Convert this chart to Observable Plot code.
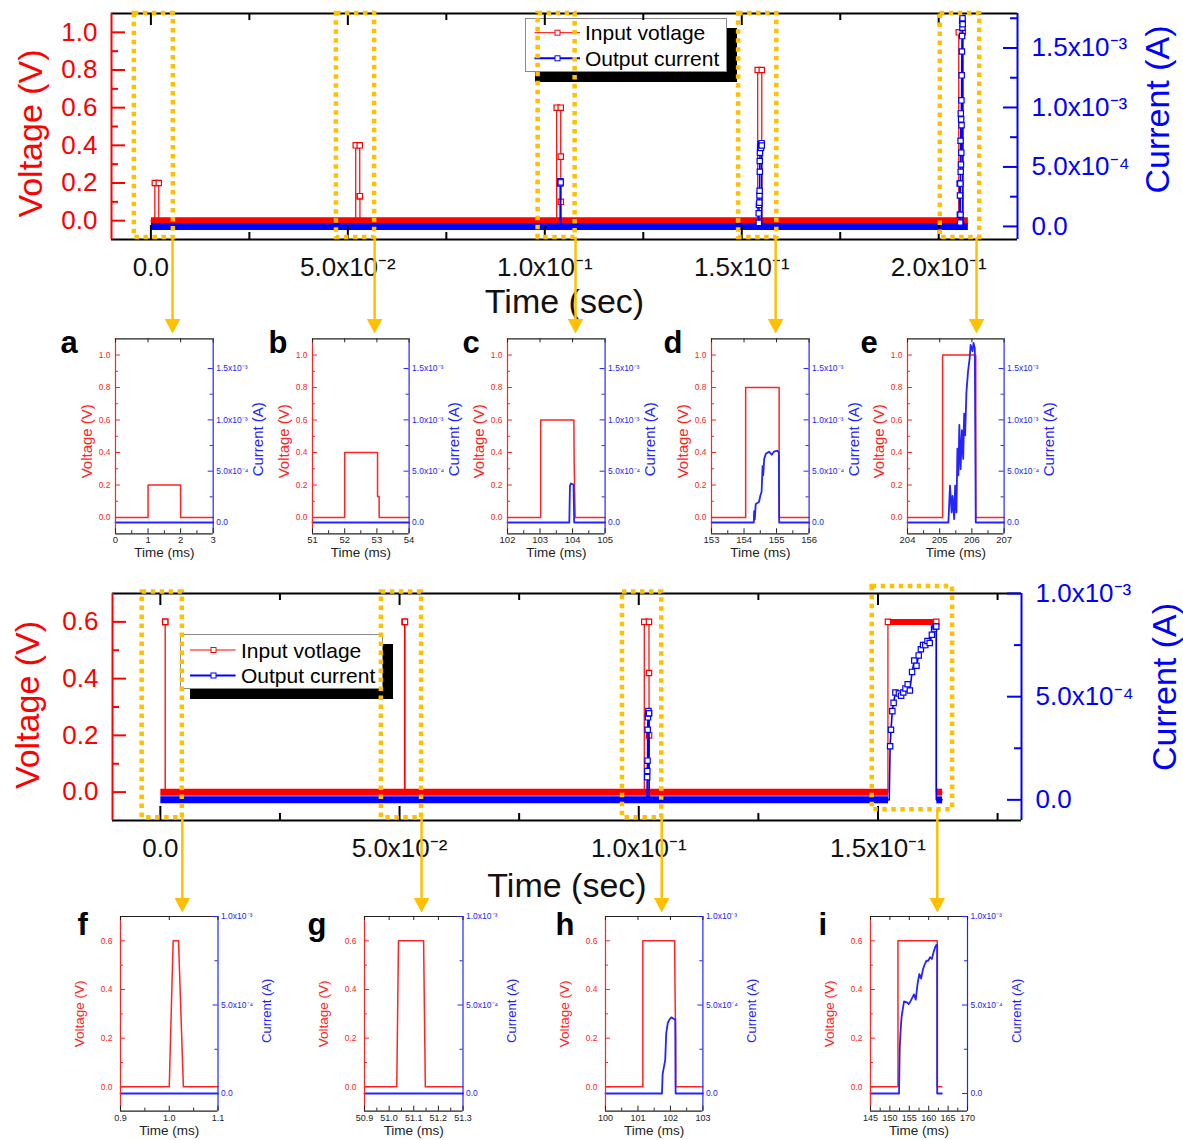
<!DOCTYPE html>
<html>
<head>
<meta charset="utf-8">
<script src="https://cdn.jsdelivr.net/npm/d3@7"></script>
<script src="https://cdn.jsdelivr.net/npm/@observablehq/plot@0.6"></script>
<style>
  html, body { margin: 0; padding: 0; background: #fff; }
  #fig { position: relative; width: 1183px; height: 1140px; overflow: hidden; background: #fff; font-family: "Liberation Sans", Arial, sans-serif; }
  .legend { position: absolute; background: #fff; border: 1px solid #8a8a8a; box-shadow: 10px 10px 0 #000; box-sizing: border-box; }
  .legend text { font-family: "Liberation Sans", Arial, sans-serif; font-size: 21px; fill: #000; }
</style>
</head>
<body>
<div id="fig">
  <div class="legend" style="left:525px;top:18px;width:202px;height:54px;">
    <svg width="200" height="52" style="display:block">
      <line x1="8.5" x2="54" y1="13.7" y2="13.7" stroke="#ff0000" stroke-width="1"/>
      <rect x="29" y="11.2" width="5" height="5" fill="#fff" stroke="#ff0000" stroke-width="1"/>
      <text x="59" y="21.2">Input votlage</text>
      <line x1="8.5" x2="54" y1="39.3" y2="39.3" stroke="#0000ff" stroke-width="2"/>
      <rect x="29" y="36.8" width="5" height="5" fill="#fff" stroke="#0000ff" stroke-width="1"/>
      <text x="59" y="46.8">Output current</text>
    </svg>
  </div>
  <div class="legend" style="left:180px;top:634px;width:203px;height:55px;">
    <svg width="201" height="53" style="display:block">
      <line x1="9" x2="54.6" y1="15" y2="15" stroke="#ff0000" stroke-width="1"/>
      <rect x="30" y="12.5" width="5" height="5" fill="#fff" stroke="#ff0000" stroke-width="1"/>
      <text x="60" y="22.5">Input votlage</text>
      <line x1="9" x2="54.6" y1="40.5" y2="40.5" stroke="#0000ff" stroke-width="2"/>
      <rect x="30" y="38" width="5" height="5" fill="#fff" stroke="#0000ff" stroke-width="1"/>
      <text x="60" y="48">Output current</text>
    </svg>
  </div>
</div>
<script>
// ====================== DATA ======================
// Panel traces: time in ms, voltage in V, current in A
// (a) 0.2 V pulse
const aVoltT = [0, 1.0, 1.0, 2.0, 2.0, 3.0];
const aVolt  = [0, 0, 0.2, 0.2, 0, 0];
const aCurrT = [0, 3.0];
const aCurr  = [0, 0];
// (b) 0.4 V pulse
const bVoltT = [51, 52.0, 52.0, 53.02, 53.02, 53.07, 53.07, 54];
const bVolt  = [0, 0, 0.4, 0.4, 0.13, 0.13, 0, 0];
const bCurrT = [51, 54];
const bCurr  = [0, 0];
// (c) 0.6 V pulse
const cVoltT = [102, 103.02, 103.02, 104.04, 104.05, 104.07, 104.08, 105];
const cVolt  = [0, 0, 0.6, 0.6, 0.34, 0.1, 0, 0];
const cCurrT = [102, 103.9, 103.92, 103.95, 103.99, 104.03, 104.05, 105];
const cCurr  = [0, 0, 3.6e-4, 3.8e-4, 3.75e-4, 3.7e-4, 0, 0];
// (d) 0.8 V pulse
const dVoltT = [153, 154.05, 154.05, 155.08, 155.08, 156];
const dVolt  = [0, 0, 0.8, 0.8, 0, 0];
const dCurrT = [153, 154.30, 154.31, 154.33, 154.36, 154.46, 154.50, 154.54, 154.57, 154.59, 154.62, 154.67, 154.77, 154.85, 154.92, 155.03, 155.07, 155.08, 156];
const dCurr  = [0, 0, 1.1e-4, 0.3e-4, 1.8e-4, 2.0e-4, 2.6e-4, 3.0e-4, 5.5e-4, 4.6e-4, 6.2e-4, 6.7e-4, 6.9e-4, 6.6e-4, 6.9e-4, 7.0e-4, 6.8e-4, 0, 0];
// (e) 1.0 V pulse
const eVoltT = [204, 205.09, 205.09, 206.12, 206.12, 207];
const eVolt  = [0, 0, 1.0, 1.0, 0, 0];
const eCurrT = [204, 205.27, 205.32, 205.37, 205.40, 205.45, 205.48, 205.52, 205.55, 205.58, 205.61, 205.65, 205.69, 205.73, 205.76, 205.79, 205.83, 205.88, 205.93, 205.96, 206.02, 206.05, 206.09, 206.12, 207];
const eCurr  = [0, 0, 3.6e-4, 0.98e-4, 2.6e-4, 0.33e-4, 3.6e-4, 0.98e-4, 7.2e-4, 4.6e-4, 9.5e-4, 5.2e-4, 9.0e-4, 6.2e-4, 10.6e-4, 8.5e-4, 12.7e-4, 14.7e-4, 16.0e-4, 17.3e-4, 16.7e-4, 17.5e-4, 17.0e-4, 0, 0];
// (f) 0.6 V, short pulse
const fVoltT = [0.9, 1.0, 1.008, 1.019, 1.029, 1.1];
const fVolt  = [0, 0, 0.6, 0.6, 0, 0];
const fCurrT = [0.9, 1.1];
const fCurr  = [0, 0];
// (g) 0.6 V
const gVoltT = [50.9, 51.031, 51.038, 51.140, 51.147, 51.3];
const gVolt  = [0, 0, 0.6, 0.6, 0, 0];
const gCurrT = [50.9, 51.3];
const gCurr  = [0, 0];
// (h) 0.6 V, 1 ms
const hVoltT = [100, 101.15, 101.15, 102.13, 102.14, 102.16, 102.16, 103];
const hVolt  = [0, 0, 0.6, 0.6, 0.42, 0.2, 0, 0];
const hCurrT = [100, 101.74, 101.76, 101.79, 101.84, 101.87, 101.92, 101.98, 102.03, 102.12, 102.15, 102.16, 103];
const hCurr  = [0, 0, 1.1e-4, 1.4e-4, 1.9e-4, 3.4e-4, 4.0e-4, 4.2e-4, 4.3e-4, 4.2e-4, 4.2e-4, 0, 0];
// (i) 0.6 V, 10 ms
const iVoltT = [145, 152.08, 152.08, 162.19, 162.19, 163.4];
const iVolt  = [0, 0, 0.6, 0.6, 0, 0];
const iCurrT = [145, 152.35, 152.54, 152.72, 153.0, 153.27, 153.64, 154.38, 154.84, 155.29, 155.75, 156.21, 156.67, 157.13, 157.59, 158.05, 158.51, 158.97, 159.43, 159.89, 160.35, 160.81, 161.27, 161.73, 162.0, 162.19, 162.19, 163.4];
const iCurr  = [0, 0, 2.6e-4, 3.4e-4, 4.3e-4, 4.7e-4, 5.2e-4, 5.15e-4, 5.05e-4, 5.2e-4, 5.4e-4, 5.6e-4, 5.3e-4, 6.2e-4, 6.75e-4, 6.5e-4, 7.0e-4, 7.3e-4, 7.5e-4, 7.5e-4, 7.7e-4, 7.6e-4, 8.0e-4, 8.3e-4, 8.4e-4, 8.4e-4, 0, 0];

// Panel x ticks (ms)
const aTicks = [0, 1, 2, 3];
const bTicks = [51, 52, 53, 54];
const cTicks = [102, 103, 104, 105];
const dTicks = [153, 154, 155, 156];
const eTicks = [204, 205, 206, 207];
const fTicks = [0.9, 1.0, 1.1];
const gTicks = [50.9, 51.0, 51.1, 51.2, 51.3];
const hTicks = [100, 101, 102, 103];
const iTicks = [145, 150, 155, 160, 165, 170];

// Main charts: baseline extents (s), where both signals sit at zero
const topBaseline = [[0, 0.2074]];
const bottomBaseline = [[0, 0.1521], [0.1622, 0.1634]];

// Main tick values
const topXTicks = [0, 0.05, 0.1, 0.15, 0.2];
const topXMinor = [0.025, 0.075, 0.125, 0.175];
const topVTicks = [0, 0.2, 0.4, 0.6, 0.8, 1.0];
const topVMinor = [0.1, 0.3, 0.5, 0.7, 0.9];
const topITicks = [0, 5e-4, 1e-3, 1.5e-3];
const topIMinor = [2.5e-4, 7.5e-4, 1.25e-3, 1.75e-3];
const bottomXTicks = [0, 0.05, 0.1, 0.15];
const bottomXMinor = [0.025, 0.075, 0.125, 0.175];
const bottomVTicks = [0, 0.2, 0.4, 0.6];
const bottomVMinor = [0.1, 0.3, 0.5];
const bottomITicks = [0, 5e-4, 1e-3];
const bottomIMinor = [2.5e-4, 7.5e-4];

// Highlight boxes (s, V) and arrows (s)
const topBoxX1 = [-0.0042, 0.0471, 0.0983, 0.1492, 0.2004];
const topBoxX2 = [0.0057, 0.0568, 0.1077, 0.1589, 0.2104];
const topBoxY1 = [-0.09, -0.09, -0.09, -0.09, -0.09];
const topBoxY2 = [1.1, 1.1, 1.1, 1.1, 1.1];
const topArrowX = [0.0055, 0.0568, 0.1078, 0.1586, 0.2096];
const bottomBoxX1 = [-0.0038, 0.0462, 0.0966, 0.1488];
const bottomBoxX2 = [0.0046, 0.0546, 0.1048, 0.1656];
const bottomBoxY1 = [-0.09, -0.09, -0.09, -0.062];
const bottomBoxY2 = [0.705, 0.705, 0.705, 0.725];
const bottomArrowX = [0.0046, 0.0546, 0.1048, 0.1624];

// ====================== STYLE / HELPERS ======================
const RED = "#ff0000", BLUE = "#0000ff", YEL = "#ffc000";
const PRED = "#ff2424", PBLUE = "#2424ff";
const FONT = "'Liberation Sans', Arial, sans-serif";
const SUP = {"-": "\u207B", "0": "\u2070", "1": "\u00B9", "2": "\u00B2", "3": "\u00B3", "4": "\u2074", "5": "\u2075", "6": "\u2076", "7": "\u2077", "8": "\u2078", "9": "\u2079"};
function sci(v) {
  if (v === 0) return "0.0";
  const e = Math.floor(Math.log10(Math.abs(v)) + 1e-9);
  const m = v / Math.pow(10, e);
  return m.toFixed(1) + "x10" + String(e).split("").map(c => SUP[c]).join("");
}
const triDown = {draw(ctx, size) {
  const r = Math.sqrt(size / Math.PI), h = r * 1.2, w = r * 1.3;
  ctx.moveTo(-w, -h); ctx.lineTo(w, -h); ctx.lineTo(0, h); ctx.closePath();
}};
const fig = document.getElementById("fig");
function place(svg, left, top) {
  Object.assign(svg.style, {position: "absolute", left: left + "px", top: top + "px", background: "transparent", overflow: "visible", maxWidth: "none"});
  fig.appendChild(svg);
}
const MID = {lineAnchor: "middle"};

// ====================== MAIN CHARTS ======================
function mainChart(o) {
  const W = 1183;
  const [x0, x1] = o.xDomain, [v0, v1] = o.vDomain, [i0, i1] = o.iDomain;
  const toV = I => v0 + (I - i0) / (i1 - i0) * (v1 - v0);
  const fw = W - o.mL - o.mR;
  const pxV = o.frameH / (v1 - v0), pxX = fw / (x1 - x0);
  const dv = px => px / pxV, dx = px => px / pxX;
  const vRows = [], iRows = [], plateau = [];
  o.panels.forEach((p, k) => {
    const vmax = d3.max(p.vv);
    p.vt.forEach((t, j) => {
      const r = {t: t / 1000, v: p.vv[j], k};
      vRows.push(r);
      if (p.vv[j] >= 0.95 * vmax) plateau.push(r);
    });
    p.it.forEach((t, j) => iRows.push({t: t / 1000, v: toV(p.iv[j]), I: p.iv[j], k}));
  });
  const band = o.baseline.flatMap((b, k) => [{t: b[0], k}, {t: b[1], k}]);
  const boxes = o.boxX1.map((d, j) => ({x1: d, x2: o.boxX2[j], y1: o.boxY1[j], y2: o.boxY2[j]}));
  const arrows = o.arrowX.map((x, j) => ({x, y1: o.boxY1[j]}));
  const sq = {symbol: "square", r: 3, fill: "white", strokeWidth: 1.2};
  const svg = Plot.plot({
    width: W, height: o.H,
    marginLeft: o.mL, marginRight: o.mR, marginTop: o.mT, marginBottom: o.H - o.mT - o.frameH,
    x: {domain: o.xDomain, axis: null},
    y: {domain: o.vDomain, axis: null},
    style: {fontFamily: FONT, background: "transparent", overflow: "visible"},
    marks: [
      Plot.line(band, {x: "t", y: () => 0, z: "k", stroke: RED, strokeWidth: 7, strokeLinecap: "butt"}),
      Plot.line(band, {x: "t", y: () => toV(0), z: "k", stroke: BLUE, strokeWidth: 7, strokeLinecap: "butt"}),
      Plot.line(vRows, {x: "t", y: "v", z: "k", stroke: RED, strokeWidth: 1.2}),
      Plot.line(plateau, {x: "t", y: "v", z: "k", stroke: RED, strokeWidth: 6, strokeLinecap: "butt"}),
      Plot.dot(vRows.filter(d => d.v > 0.05), {x: "t", y: "v", ...sq, stroke: RED}),
      Plot.line(iRows, {x: "t", y: "v", z: "k", stroke: BLUE, strokeWidth: 1.6}),
      Plot.dot(iRows.filter(d => d.I > 0), {x: "t", y: "v", ...sq, stroke: BLUE}),
      // frame
      Plot.ruleY([v0], {y: d => d, stroke: "black", strokeWidth: 2}),
      Plot.ruleY([v1], {y: d => d, stroke: "black", strokeWidth: 2}),
      Plot.ruleX([x0], {x: d => d, stroke: RED, strokeWidth: 2}),
      Plot.ruleX([x1], {x: d => d, stroke: BLUE, strokeWidth: 2}),
      // inward ticks
      Plot.ruleX(o.xTicks, {x: d => d, y1: () => v0, y2: () => v0 + dv(14), stroke: "black", strokeWidth: 2}),
      Plot.ruleX(o.xMinor, {x: d => d, y1: () => v0, y2: () => v0 + dv(7), stroke: "black", strokeWidth: 2}),
      Plot.ruleX(o.xTicks, {x: d => d, y1: () => v1, y2: () => v1 - dv(12), stroke: "black", strokeWidth: 2}),
      Plot.ruleX(o.xMinor, {x: d => d, y1: () => v1, y2: () => v1 - dv(7), stroke: "black", strokeWidth: 2}),
      Plot.ruleY(o.vTicks, {y: d => d, x1: () => x0, x2: () => x0 + dx(14), stroke: RED, strokeWidth: 2}),
      Plot.ruleY(o.vMinor, {y: d => d, x1: () => x0, x2: () => x0 + dx(7), stroke: RED, strokeWidth: 2}),
      Plot.ruleY(o.iTicks, {y: d => toV(d), x1: () => x1 - dx(14), x2: () => x1, stroke: BLUE, strokeWidth: 2}),
      Plot.ruleY(o.iMinor, {y: d => toV(d), x1: () => x1 - dx(7), x2: () => x1, stroke: BLUE, strokeWidth: 2}),
      // highlight boxes
      Plot.rect(boxes, {x1: "x1", x2: "x2", y1: "y1", y2: "y2", fill: "none", stroke: YEL, strokeWidth: 4.5, strokeDasharray: "4.5 4.5"}),
      // tick labels
      Plot.text(o.xTicks, {x: d => d, frameAnchor: "bottom", ...MID, dy: 28, text: d => sci(d), fontSize: 26, fill: "#111"}),
      Plot.text(o.vTicks, {y: d => d, frameAnchor: "left", ...MID, dx: -14, textAnchor: "end", text: d => d.toFixed(1), fontSize: 26, fill: RED}),
      Plot.text(o.iTicks, {y: d => toV(d), frameAnchor: "right", ...MID, dx: 14, textAnchor: "start", text: d => sci(d), fontSize: 26, fill: BLUE}),
      // titles
      Plot.text(["Time (sec)"], {frameAnchor: "bottom", ...MID, textAnchor: "middle", dy: o.xTitleDy, text: d => d, fontSize: 34, fill: "#111"}),
      Plot.text(["Voltage (V)"], {frameAnchor: "left", ...MID, textAnchor: "middle", rotate: -90, dx: o.vTitleDx, dy: o.vTitleDy, text: d => d, fontSize: 34, fill: RED}),
      Plot.text(["Current (A)"], {frameAnchor: "right", ...MID, textAnchor: "middle", rotate: -90, dx: o.iTitleDx, dy: o.iTitleDy, text: d => d, fontSize: 34, fill: BLUE}),
      // arrows to zoomed panels
      Plot.ruleX(arrows, {x: "x", y1: "y1", y2: () => v0 - dv(o.tipBelow - 12), stroke: YEL, strokeWidth: 2.5}),
      Plot.dot(arrows, {x: "x", y: () => v0 - dv(o.tipBelow - 7.2), symbol: triDown, r: 6, fill: YEL, stroke: "none"})
    ]
  });
  place(svg, 0, o.top);
}

// ====================== ZOOM PANELS ======================
function panelChart(p, row) {
  const mL = 64, mR = 66;
  const fw = p.fr - p.fl;
  const [x0, x1] = p.xDomain, [v0, v1] = row.vDomain, [i0, i1] = row.iDomain;
  const toV = I => v0 + (I - i0) / (i1 - i0) * (v1 - v0);
  const pxV = row.frameH / (v1 - v0), pxX = fw / (x1 - x0);
  const dv = px => px / pxV, dx = px => px / pxX;
  const vRows = p.vt.map((t, j) => ({t, v: p.vv[j]}));
  const iRows = p.it.map((t, j) => ({t, v: toV(p.iv[j])}));
  const xMinor = d3.pairs(p.xTicks).map(([a, b]) => (a + b) / 2);
  const vMinor = d3.pairs(row.vTicks).map(([a, b]) => (a + b) / 2);
  const iMinor = d3.pairs(row.iTicks).map(([a, b]) => (a + b) / 2);
  const sw = 1.2;
  const svg = Plot.plot({
    width: fw + mL + mR, height: row.H,
    marginLeft: mL, marginRight: mR, marginTop: row.mT, marginBottom: row.H - row.mT - row.frameH,
    x: {domain: p.xDomain, axis: null},
    y: {domain: row.vDomain, axis: null},
    style: {fontFamily: FONT, background: "transparent", overflow: "visible"},
    marks: [
      Plot.line(vRows, {x: "t", y: "v", stroke: PRED, strokeWidth: 1.5}),
      Plot.line(iRows, {x: "t", y: "v", stroke: PBLUE, strokeWidth: 1.8}),
      // frame
      Plot.ruleY([v0], {y: d => d, stroke: "#222", strokeWidth: sw}),
      Plot.ruleY([v1], {y: d => d, stroke: "#222", strokeWidth: sw}),
      Plot.ruleX([x0], {x: d => d, stroke: PRED, strokeWidth: sw}),
      Plot.ruleX([x1], {x: d => d, stroke: PBLUE, strokeWidth: sw}),
      // ticks
      Plot.ruleX(p.xTicks, {x: d => d, y1: () => v0, y2: () => v0 + dv(5), stroke: "#222", strokeWidth: 1}),
      Plot.ruleX(xMinor, {x: d => d, y1: () => v0, y2: () => v0 + dv(3), stroke: "#222", strokeWidth: 1}),
      Plot.ruleX(p.xTicks, {x: d => d, y1: () => v1, y2: () => v1 - dv(4), stroke: "#222", strokeWidth: 1}),
      Plot.ruleY(row.vTicks, {y: d => d, x1: () => x0, x2: () => x0 + dx(5), stroke: PRED, strokeWidth: 1}),
      Plot.ruleY(vMinor, {y: d => d, x1: () => x0, x2: () => x0 + dx(3), stroke: PRED, strokeWidth: 1}),
      Plot.ruleY(row.iTicks, {y: d => toV(d), x1: () => x1 - dx(5), x2: () => x1, stroke: PBLUE, strokeWidth: 1}),
      Plot.ruleY(iMinor, {y: d => toV(d), x1: () => x1 - dx(3), x2: () => x1, stroke: PBLUE, strokeWidth: 1}),
      // labels
      Plot.text(p.xTicks, {x: d => d, frameAnchor: "bottom", ...MID, dy: row.xLabDy, text: p.fmt, fontSize: row.xLabSize, fill: "#222"}),
      Plot.text(row.vTicks, {y: d => d, frameAnchor: "left", ...MID, dx: row.vLabDx, textAnchor: "end", text: d => d.toFixed(1), fontSize: 8.5, fill: PRED}),
      Plot.text(row.iTicks, {y: d => toV(d), frameAnchor: "right", ...MID, dx: 3, textAnchor: "start", text: d => sci(d), fontSize: 8.5, fill: PBLUE}),
      Plot.text(["Time (ms)"], {frameAnchor: "bottom", ...MID, textAnchor: "middle", dy: row.xTitleDy, text: d => d, fontSize: 13.5, fill: "#222"}),
      Plot.text(["Voltage (V)"], {frameAnchor: "left", ...MID, textAnchor: "middle", rotate: -90, dx: row.vTitleDx, dy: row.vTitleDy, text: d => d, fontSize: row.vTitleSize, fill: PRED}),
      Plot.text(["Current (A)"], {frameAnchor: "right", ...MID, textAnchor: "middle", rotate: -90, dx: row.iTitleDx, dy: row.iTitleDy, text: d => d, fontSize: row.iTitleSize, fill: PBLUE}),
      Plot.text([p.id], {frameAnchor: "top-left", ...MID, dx: p.letterDx, dy: row.letterDy, textAnchor: "start", text: d => d, fontSize: 31, fontWeight: "bold", fill: "#000"})
    ]
  });
  place(svg, p.fl - mL, row.top);
}

const intFmt = d => String(d);
const oneFmt = d => d.toFixed(1);

const topPanels = [
  {id: "a", vt: aVoltT, vv: aVolt, it: aCurrT, iv: aCurr, xDomain: [0, 3], xTicks: aTicks, fmt: intFmt, fl: 115, fr: 212.7, letterDx: -55},
  {id: "b", vt: bVoltT, vv: bVolt, it: bCurrT, iv: bCurr, xDomain: [51, 54], xTicks: bTicks, fmt: intFmt, fl: 311.7, fr: 408.3, letterDx: -44},
  {id: "c", vt: cVoltT, vv: cVolt, it: cCurrT, iv: cCurr, xDomain: [102, 105], xTicks: cTicks, fmt: intFmt, fl: 506.7, fr: 604.3, letterDx: -45},
  {id: "d", vt: dVoltT, vv: dVolt, it: dCurrT, iv: dCurr, xDomain: [153, 156], xTicks: dTicks, fmt: intFmt, fl: 710.7, fr: 808.3, letterDx: -48},
  {id: "e", vt: eVoltT, vv: eVolt, it: eCurrT, iv: eCurr, xDomain: [204, 207], xTicks: eTicks, fmt: intFmt, fl: 906.7, fr: 1003.3, letterDx: -47}
];
const bottomPanels = [
  {id: "f", vt: fVoltT, vv: fVolt, it: fCurrT, iv: fCurr, xDomain: [0.9, 1.1], xTicks: fTicks, fmt: oneFmt, fl: 120.4, fr: 217.9, letterDx: -43},
  {id: "g", vt: gVoltT, vv: gVolt, it: gCurrT, iv: gCurr, xDomain: [50.9, 51.3], xTicks: gTicks, fmt: oneFmt, fl: 364, fr: 462.5, letterDx: -57},
  {id: "h", vt: hVoltT, vv: hVolt, it: hCurrT, iv: hCurr, xDomain: [100, 103], xTicks: hTicks, fmt: intFmt, fl: 604.6, fr: 702, letterDx: -50},
  {id: "i", vt: iVoltT, vv: iVolt, it: iCurrT, iv: iCurr, xDomain: [145, 170], xTicks: iTicks, fmt: intFmt, fl: 870, fr: 967, letterDx: -52}
];

mainChart({
  top: 0, H: 335, mL: 111, mR: 166, mT: 13, frameH: 226,
  xDomain: [-0.01, 0.22], vDomain: [-0.1, 1.1], iDomain: [-0.11e-3, 1.79e-3],
  panels: topPanels, baseline: topBaseline,
  xTicks: topXTicks, xMinor: topXMinor, vTicks: topVTicks, vMinor: topVMinor, iTicks: topITicks, iMinor: topIMinor,
  boxX1: topBoxX1, boxX2: topBoxX2, boxY1: topBoxY1, boxY2: topBoxY2, arrowX: topArrowX,
  xTitleDy: 63, vTitleDx: -80, vTitleDy: 7, iTitleDx: 141, iTitleDy: -17, tipBelow: 94
});
mainChart({
  top: 580, H: 335, mL: 112, mR: 162, mT: 13, frameH: 227,
  xDomain: [-0.01, 0.18], vDomain: [-0.1, 0.7], iDomain: [-0.1e-3, 1.0e-3],
  panels: bottomPanels, baseline: bottomBaseline,
  xTicks: bottomXTicks, xMinor: bottomXMinor, vTicks: bottomVTicks, vMinor: bottomVMinor, iTicks: bottomITicks, iMinor: bottomIMinor,
  boxX1: bottomBoxX1, boxX2: bottomBoxX2, boxY1: bottomBoxY1, boxY2: bottomBoxY2, arrowX: bottomArrowX,
  xTitleDy: 66, vTitleDx: -84, vTitleDy: -2, iTitleDx: 144, iTitleDy: -20, tipBelow: 92
});

const topRow = {top: 325, H: 240, mT: 13.3, frameH: 195, vDomain: [-0.1, 1.1], iDomain: [-0.11e-3, 1.79e-3],
  vTicks: [0, 0.2, 0.4, 0.6, 0.8, 1.0], iTicks: [0, 5e-4, 1e-3, 1.5e-3],
  xLabDy: 6, xLabSize: 9.5, vLabDx: -5, xTitleDy: 19, vTitleDx: -28, vTitleDy: 5, vTitleSize: 15, iTitleDx: 45, iTitleDy: 3, iTitleSize: 15, letterDy: 4.6};
const bottomRow = {top: 900, H: 240, mT: 16, frameH: 194.7, vDomain: [-0.1, 0.7], iDomain: [-0.1e-3, 1.0e-3],
  vTicks: [0, 0.2, 0.4, 0.6], iTicks: [0, 5e-4, 1e-3],
  xLabDy: 6.5, xLabSize: 9, vLabDx: -8, xTitleDy: 19.5, vTitleDx: -41, vTitleDy: 0, vTitleSize: 13.5, iTitleDx: 49, iTitleDy: -3, iTitleSize: 13, letterDy: 8.4};

topPanels.forEach(p => panelChart(p, topRow));
bottomPanels.forEach(p => panelChart(p, bottomRow));
</script>
</body>
</html>
